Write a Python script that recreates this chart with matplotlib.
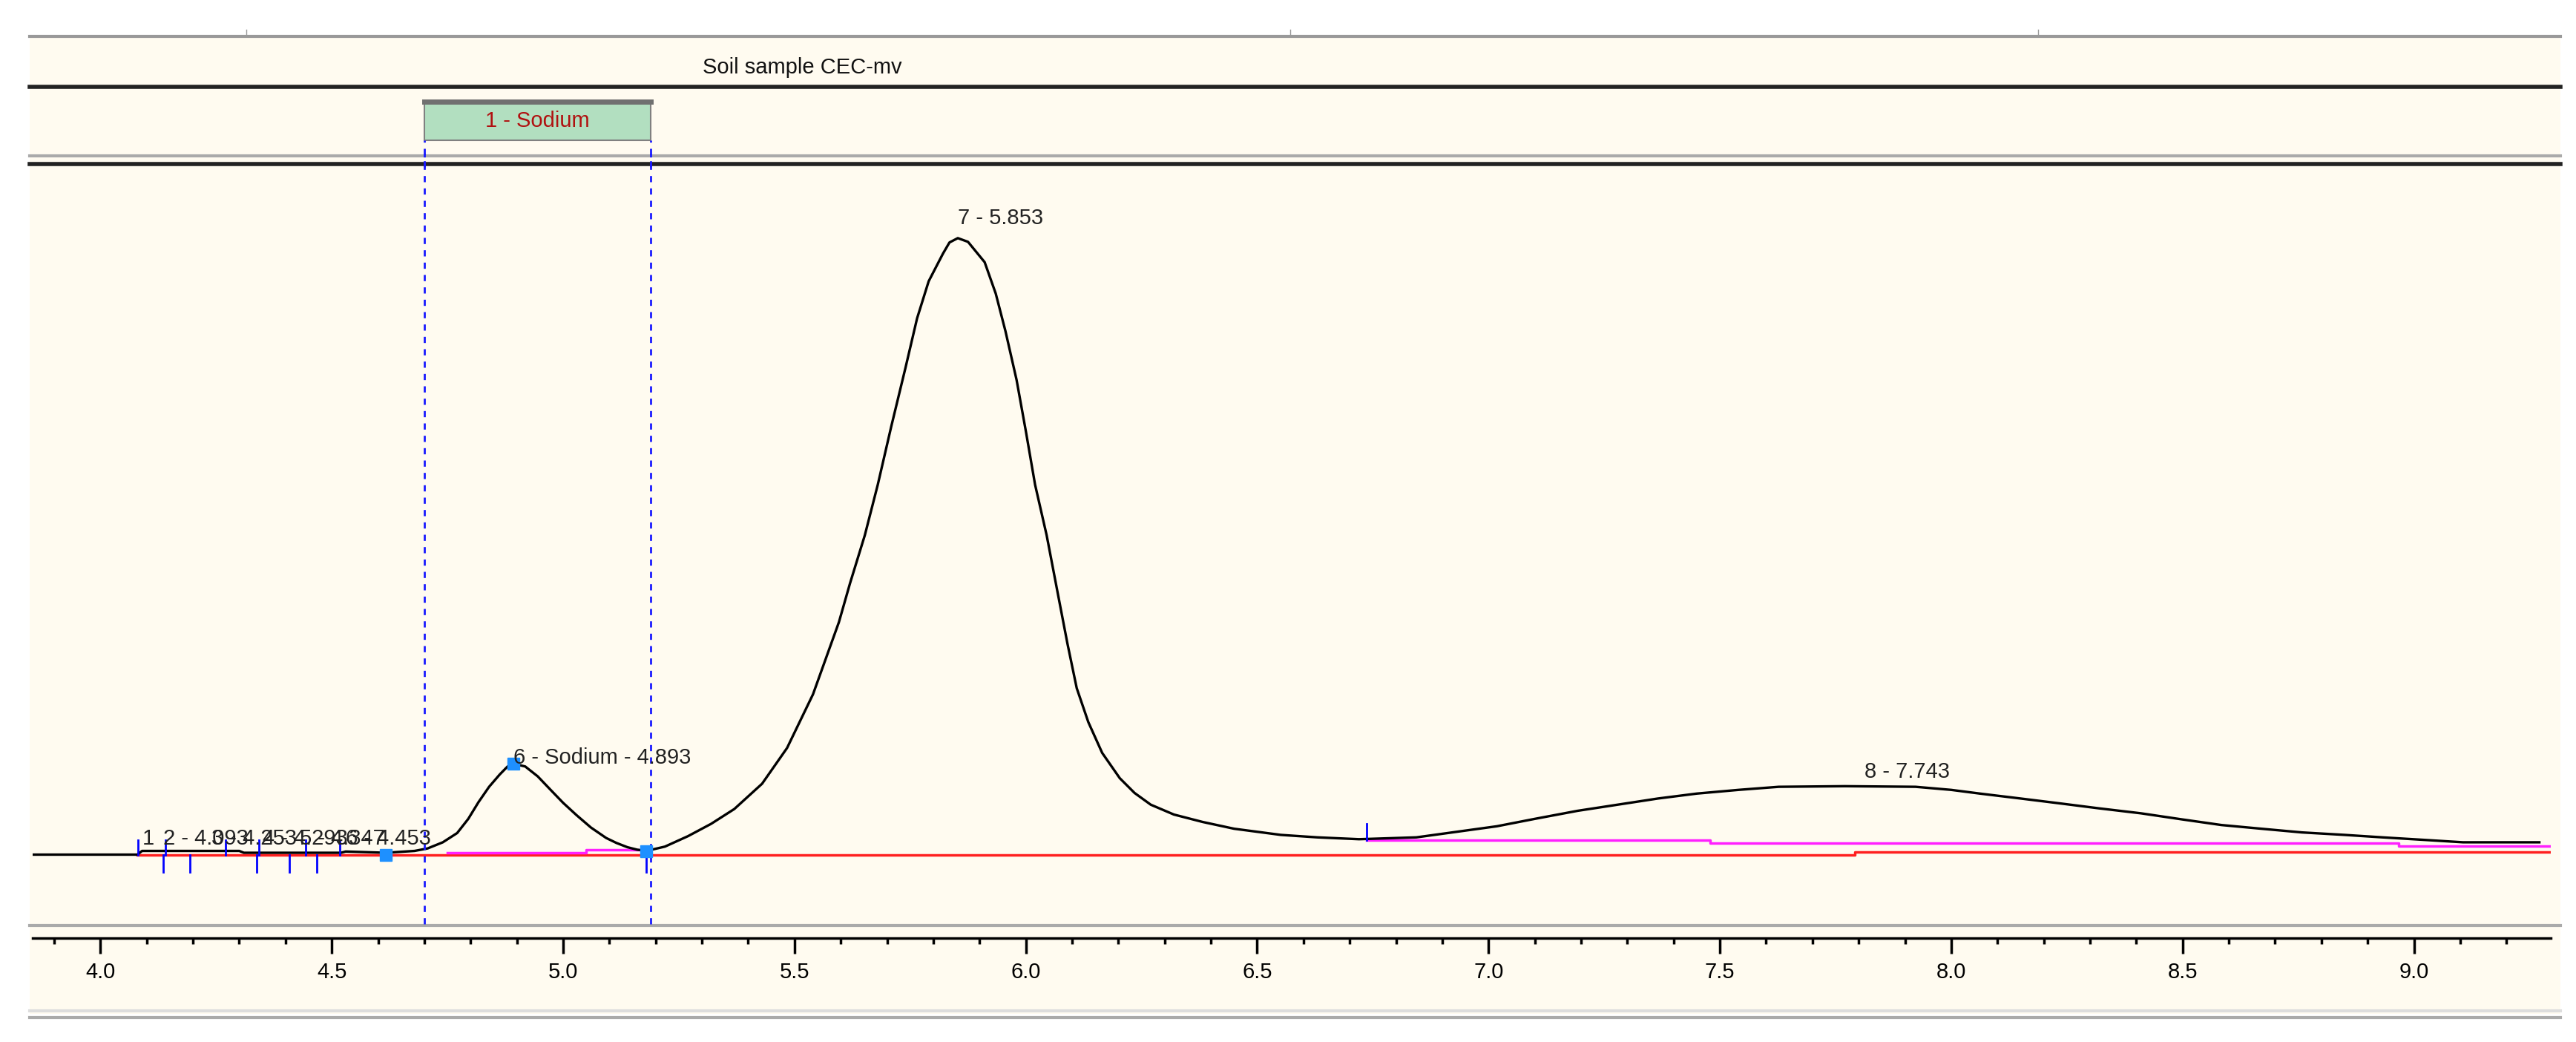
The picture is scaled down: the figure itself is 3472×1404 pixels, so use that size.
import matplotlib
matplotlib.use("Agg")
import matplotlib.pyplot as plt
from matplotlib.patches import Rectangle

# chromatogram trace (retention time in min, signal)
trace_t = [3.854, 4.08, 4.09, 4.30, 4.31, 4.52, 4.53, 4.617, 4.679, 4.707, 4.74, 4.771,
           4.795, 4.817, 4.84, 4.863, 4.88, 4.895, 4.918, 4.945, 4.973, 5.00, 5.029,
           5.06, 5.093, 5.115, 5.139, 5.16, 5.18, 5.22, 5.27, 5.32, 5.37, 5.43, 5.484,
           5.54, 5.596, 5.62, 5.652, 5.68, 5.709, 5.74, 5.765, 5.79, 5.821, 5.835,
           5.853, 5.875, 5.911, 5.935, 5.956, 5.98, 6.0, 6.02, 6.045, 6.07, 6.09, 6.11,
           6.135, 6.165, 6.203, 6.235, 6.27, 6.32, 6.382, 6.45, 6.551, 6.63, 6.72,
           6.844, 7.018, 7.1, 7.192, 7.366, 7.45, 7.54, 7.627, 7.77, 7.923, 8.0, 8.062,
           8.15, 8.236, 8.32, 8.41, 8.5, 8.584, 8.67, 8.758, 8.85, 8.932, 9.02, 9.106,
           9.271]
trace_y = [0.0, 0.0, 0.6, 0.6, 0.3, 0.3, 0.5, 0.3, 0.6, 1.0, 2.0, 3.5,
           5.8, 8.5, 11.0, 13.0, 14.3, 14.7, 14.3, 12.7, 10.5, 8.4, 6.4,
           4.4, 2.7, 1.9, 1.2, 0.8, 0.6, 1.3, 3.0, 5.0, 7.4, 11.5, 17.3,
           26.0, 37.7, 44.0, 51.8, 60.0, 69.4, 79.0, 87.0, 93.0, 97.5, 99.3,
           100.0, 99.4, 96.1, 91.0, 84.9, 77.0, 68.7, 60.0, 51.8, 42.0, 34.2, 27.0,
           21.5, 16.5, 12.4, 10.0, 8.1, 6.5, 5.3, 4.2, 3.2, 2.8, 2.5,
           2.8, 4.6, 5.8, 7.1, 9.1, 9.9, 10.5, 11.0, 11.1, 11.0, 10.5, 9.9,
           9.1, 8.3, 7.5, 6.7, 5.7, 4.8, 4.2, 3.6, 3.2, 2.8, 2.4, 2.0,
           2.0]

# integration baselines (step lines)
red_t = [4.08, 7.792, 7.792, 9.295]
red_y = [0.0, 0.0, 0.4, 0.4]
mag_t = [4.75, 5.05, 5.05, 5.18, 5.18, 6.736, 7.479, 7.479, 8.967, 8.967, 9.295]
mag_y = [0.3, 0.3, 0.8, 0.8, None, 2.3, 2.3, 1.9, 1.9, 1.4, 1.4]

tick_up = [4.081, 4.141, 4.27, 4.343, 4.444, 4.518]
tick_down = [4.136, 4.193, 4.337, 4.408, 4.467, 5.18]
tick_peak8 = 6.736
marker_t = [4.617, 4.893, 5.18]
marker_y = [0.0, 14.7, 0.6]

small_labels = ["1", "2 - 4.093", "3 - 4.253", "4 - 4.293", "5 - 4.347", "6 - 4.453"]
small_label_t = [4.09, 4.135, 4.24, 4.35, 4.43, 4.53]

window = (4.70, 5.19)
window_name = "1 - Sodium"
title = "Soil sample CEC-mv"
xticks = [4.0, 4.5, 5.0, 5.5, 6.0, 6.5, 7.0, 7.5, 8.0, 8.5, 9.0]

XMIN, XMAX = 3.854, 9.295
YMIN, YMAX = -11.2, 111.7
CREAM = "#fffbf0"
FONT = "Liberation Sans"
FS = 21

W, H = 1568.0, 634.0  # layout measured on the reduced picture


def rect(x0, y0, x1, y1):
    return [x0 / W, 1 - y1 / H, (x1 - x0) / W, (y1 - y0) / H]


fig = plt.figure(figsize=(34.73, 14.04), dpi=100)
fig.patch.set_facecolor("white")

# frame and bands
frame = fig.add_axes([0, 0, 1, 1])
frame.set_xlim(0, W)
frame.set_ylim(H, 0)
frame.axis("off")
frame.add_patch(Rectangle((18, 22), 1540, 595, facecolor=CREAM, edgecolor="none"))
frame.plot([18, 1558], [22, 22], color="#999999", lw=3)
frame.plot([18, 1558], [53, 53], color="#222222", lw=4)
frame.plot([18, 1558], [95, 95], color="#aaaaaa", lw=3)
frame.plot([18, 1558], [100, 100], color="#222222", lw=4)
frame.plot([18, 1558], [563, 563], color="#aaaaaa", lw=3)
frame.plot([18, 1558], [615, 615], color="#dddddd", lw=3)
frame.plot([18, 1558], [619, 619], color="#aaaaaa", lw=3)
for tx in [150, 785, 1240]:
    frame.plot([tx, tx], [18, 22], color="#999999", lw=1)
frame.text(488, 41, title, ha="center", va="center", fontsize=FS,
           family=FONT, color="#111111")

# main trace axes
ax = fig.add_axes(rect(20, 101, 1552, 562))
ax.set_facecolor("none")
ax.set_xlim(XMIN, XMAX)
ax.set_ylim(YMIN, YMAX)
ax.axis("off")

ax.plot(red_t, red_y, color="#ff2020", lw=2.5, zorder=2)
ax.plot(mag_t, mag_y, color="#ff20ff", lw=2.5, zorder=2)
ax.plot(trace_t, trace_y, color="black", lw=2.4, zorder=3)
for t in tick_up:
    ax.plot([t, t], [0, 2.3], color="blue", lw=2, zorder=4)
for t in tick_down:
    ax.plot([t, t], [0, -2.8], color="blue", lw=2, zorder=4)
ax.plot([tick_peak8, tick_peak8], [2.3, 5.0], color="blue", lw=2, zorder=4)
ax.plot(marker_t, marker_y, "s", color="#1e90ff", ms=12, zorder=5)
for w in window:
    ax.plot([w, w], [YMIN, YMAX + 2], color="#1a1aff", lw=2, ls=(0, (3, 3)),
            zorder=4, clip_on=False)

for lbl, t in zip(small_labels, small_label_t):
    ax.text(t, 0.9, lbl, fontsize=FS, family=FONT, ha="left",
            va="bottom", color="#222222", zorder=6)
ax.text(4.893, 14.0, "6 - Sodium - 4.893", fontsize=FS, family=FONT,
        ha="left", va="bottom", color="#222222", zorder=6)
ax.text(5.853, 101.5, "7 - 5.853", fontsize=FS, family=FONT,
        ha="left", va="bottom", color="#222222", zorder=6)
ax.text(7.905, 11.8, "8 - 7.743", fontsize=FS, family=FONT,
        ha="center", va="bottom", color="#222222", zorder=6)

# peak window box in the second band
band = fig.add_axes(rect(20, 55, 1552, 94))
band.set_xlim(XMIN, XMAX)
band.set_ylim(0, 1)
band.axis("off")
band.add_patch(Rectangle((window[0], 0.22), window[1] - window[0], 0.6,
                         facecolor="#b2dfc0", edgecolor="#808080", lw=1.5))
band.plot([window[0], window[1]], [0.82, 0.82], color="#707070", lw=5)
band.text(sum(window) / 2, 0.52, window_name, ha="center", va="center",
          fontsize=FS, family=FONT, color="#b01010")
for w in window:
    band.plot([w, w], [-0.2, 0.22], color="#1a1aff", lw=2, ls=(0, (3, 3)),
              clip_on=False)

# x axis
xa = fig.add_axes(rect(20, 571, 1552, 600))
xa.set_facecolor("none")
xa.set_xlim(XMIN, XMAX)
for s in ["top", "left", "right"]:
    xa.spines[s].set_visible(False)
xa.spines["bottom"].set_position(("axes", 1.0))
xa.spines["bottom"].set_linewidth(2.5)
xa.set_yticks([])
xa.set_xticks(xticks)
xa.set_xticklabels([f"{v:.1f}" for v in xticks], fontsize=FS, family=FONT)
xa.set_xticks([v / 10 for v in range(39, 93)], minor=True)
xa.tick_params(axis="x", which="major", length=15, width=2.5, direction="out", pad=8)
xa.tick_params(axis="x", which="minor", length=6, width=2.5, direction="out")

fig.savefig("out.png", dpi=100, facecolor=fig.get_facecolor())
